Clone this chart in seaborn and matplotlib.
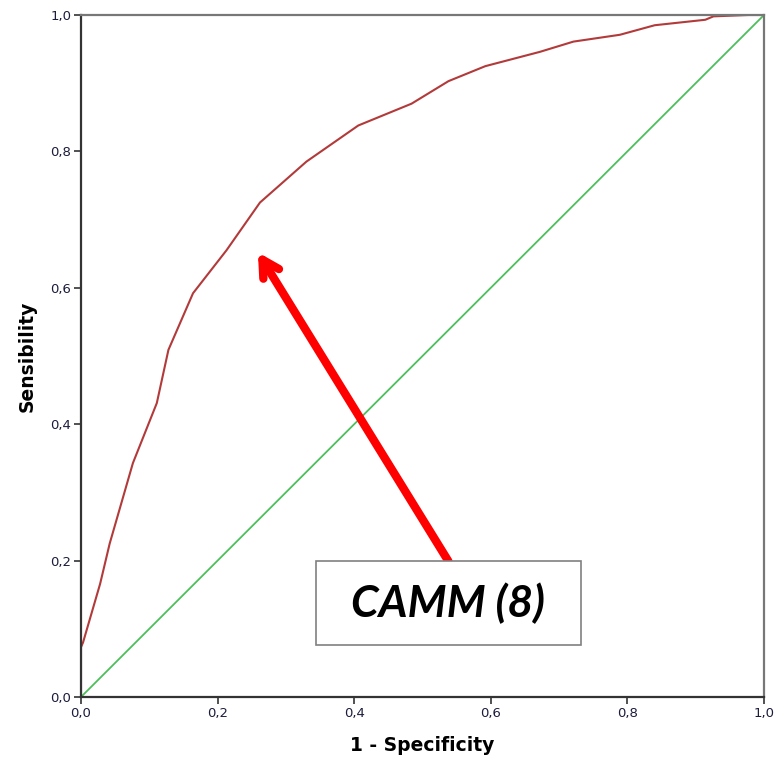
import matplotlib
matplotlib.use("Agg")
import matplotlib.pyplot as plt
import pandas as pd
import seaborn as sns
from matplotlib.patches import Rectangle

# ROC curve
fpr = [0.0, 0.0, 0.003, 0.028, 0.042, 0.076, 0.111, 0.128, 0.164, 0.213, 0.262,
       0.330, 0.406, 0.484, 0.538, 0.592, 0.672, 0.721, 0.789, 0.840, 0.914,
       0.926, 0.977, 1.0]
tpr = [0.0, 0.073, 0.080, 0.166, 0.225, 0.343, 0.431, 0.509, 0.592, 0.655, 0.725,
       0.785, 0.838, 0.870, 0.903, 0.925, 0.946, 0.961, 0.971, 0.985, 0.993,
       0.998, 1.0, 1.0]
ref_line = [0.0, 1.0]
ticks = [0.0, 0.2, 0.4, 0.6, 0.8, 1.0]
tick_labels = ["0,0", "0,2", "0,4", "0,6", "0,8", "1,0"]
label_text = "CAMM (8)"

sns.set_theme(style="white")
plt.rcParams["font.family"] = ["DejaVu Sans"]

fig = plt.figure(figsize=(7.78, 7.61), dpi=100)
ax = fig.add_axes([81 / 778, 1 - 697 / 761, 683 / 778, 682 / 761])

roc = pd.DataFrame({"fpr": fpr, "tpr": tpr})
diag = pd.DataFrame({"x": ref_line, "y": ref_line})
sns.lineplot(data=diag, x="x", y="y", color="#4cbf5c", lw=1.3, ax=ax)
sns.lineplot(data=roc, x="fpr", y="tpr", sort=False, estimator=None,
             color="#b23a3a", lw=1.5, ax=ax)

ax.set_xlim(0, 1)
ax.set_ylim(0, 1)
ax.set_xticks(ticks)
ax.set_yticks(ticks)
ax.set_xticklabels(tick_labels, fontsize=9.5, color="#1c1c3c")
ax.set_yticklabels(tick_labels, fontsize=9.5, color="#1c1c3c")
ax.tick_params(axis="both", direction="out", length=5, width=1.2,
               color="#333333", left=True, bottom=True, pad=2)
ax.set_xlabel("1 - Specificity", fontsize=13.5, fontweight="bold",
              color="black", labelpad=12)
ax.set_ylabel("Sensibility", fontsize=13.5, fontweight="bold",
              color="black", labelpad=10)

for side in ["left", "bottom"]:
    ax.spines[side].set_color("#333333")
    ax.spines[side].set_linewidth(1.6)
for side in ["top", "right"]:
    ax.spines[side].set_color("#777777")
    ax.spines[side].set_linewidth(1.6)

# annotation arrow and box
ax.annotate("", xy=(0.259, 0.652), xytext=(0.538, 0.199),
            arrowprops=dict(arrowstyle="->,head_length=1.0,head_width=0.55",
                            color="#ff0000", lw=6, shrinkA=0, shrinkB=0))
ax.add_patch(Rectangle((0.344, 0.076), 0.388, 0.123, facecolor="white",
                       edgecolor="#808080", lw=1.2, zorder=5))
ax.text(0.538, 0.137, label_text, fontsize=32, fontweight="bold",
        fontstyle="italic", family=["Lato", "DejaVu Sans"],
        color="black", ha="center", va="center", zorder=6)

fig.savefig("out.png", dpi=100)
